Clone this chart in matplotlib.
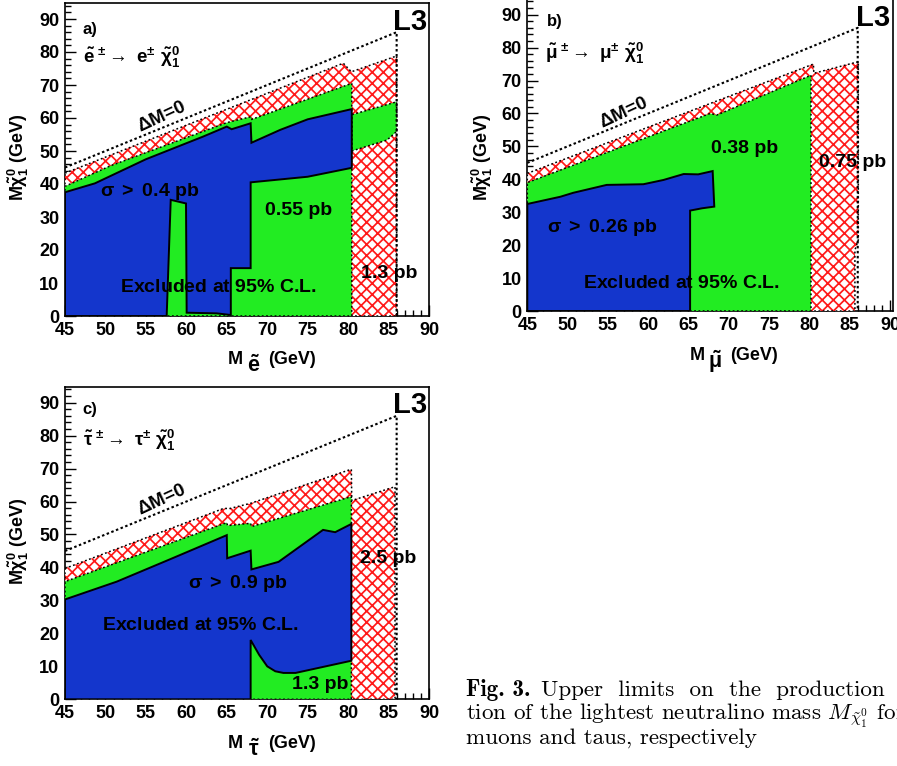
import matplotlib
matplotlib.use("Agg")
import matplotlib.pyplot as plt
from matplotlib.patches import Polygon
from matplotlib.ticker import MultipleLocator

W, H = 897, 766

# ---- values (GeV) ----
# Delta M = 0 kinematic line and the beam-energy edge
DM_X = [45, 86, 86]
DM_Y = [45, 86, 0]

# a) selectrons
A_RED_X = [45, 79.4, 80.4, 86, 86, 45]
A_RED_Y = [43.3, 76.6, 74.0, 78.8, 0, 0]
A_GREEN_X = [45, 80.45, 80.45, 68.1, 68.0, 65.0, 50.6, 45]
A_GREEN_Y = [0, 0, 70.5, 59.6, 60.4, 58.6, 45.5, 39.3]
A_BAND_X = [80.45, 84.8, 86, 86, 80.45]
A_BAND_Y = [50.0, 53.3, 55.9, 64.9, 61.0]
A_BLUE_X = [45, 57.57, 58.07, 59.96, 60.04, 63.75, 65.5, 65.5, 67.95, 67.95, 75, 80.45,
            80.45, 75, 71.6, 68.05, 67.95, 65.6, 65.0, 62.0, 55.0, 48.7, 45]
A_BLUE_Y = [0, 0, 35.2, 34.1, 1.0, 0.8, 0.3, 14.5, 14.5, 40.5, 42.2, 44.9,
            62.7, 59.6, 56.4, 52.5, 58.4, 56.6, 57.4, 54.3, 47.5, 40.2, 37.5]

# b) smuons
B_RED_X = [45, 80.5, 80.55, 86.07, 86.07, 85.65, 85.65, 45]
B_RED_Y = [41.8, 75.0, 72.2, 75.7, 21.6, 18.5, 0, 0]
B_GREEN_X = [45, 80.2, 80.2, 68.5, 67.7, 45]
B_GREEN_Y = [0, 0, 71.6, 59.5, 60.0, 39.0]
B_BLUE_X = [45, 65.2, 65.2, 66.7, 68.2, 68.0, 66.2, 64.4, 61.9, 59.4, 54.85, 50.7, 49.1, 45]
B_BLUE_Y = [0, 0, 30.5, 31.2, 31.7, 42.5, 41.5, 41.6, 39.8, 38.5, 38.3, 35.9, 34.7, 32.5]

# c) staus
C_RED_X = [45, 64.6, 65.4, 68.0, 80.4, 80.45, 85.8, 85.8, 45]
C_RED_Y = [39.7, 57.9, 57.9, 59.5, 69.8, 60.3, 64.5, 0, 0]
C_GREEN_X = [45, 80.4, 80.4, 68.05, 67.95, 65.1, 65.0, 45]
C_GREEN_Y = [0, 0, 61.5, 52.4, 53.4, 52.7, 53.6, 35.7]
C_BLUE_X = [45, 67.95, 67.95, 69.0, 70.0, 71.0, 72.0, 73.5, 80.4, 80.4, 78.4, 76.9, 71.4,
            68.05, 67.95, 65.05, 65.0, 58.0, 51.4, 45]
C_BLUE_Y = [0, 0, 18.0, 13.5, 10.0, 8.5, 8.0, 8.0, 11.7, 53.2, 50.7, 51.4, 41.7,
            39.4, 45.1, 42.8, 49.8, 42.5, 35.7, 30.3]

BLUE = '#1436cc'
GREEN = '#22ec22'
RED = '#ff1a1a'

plt.rcParams['font.family'] = ['Liberation Sans', 'DejaVu Sans']
plt.rcParams['font.weight'] = 'bold'
plt.rcParams['mathtext.fontset'] = 'custom'
plt.rcParams['mathtext.rm'] = 'Liberation Sans:bold'
plt.rcParams['mathtext.bf'] = 'Liberation Sans:bold'
plt.rcParams['mathtext.it'] = 'Liberation Sans:italic'
plt.rcParams['mathtext.sf'] = 'Liberation Sans'
plt.rcParams['hatch.linewidth'] = 1.25

fig = plt.figure(figsize=(W / 100, H / 100), dpi=100)


def px_axes(left, top, right, bottom):
    return fig.add_axes([left / W, 1 - bottom / H, (right - left) / W, (bottom - top) / H])


def fill(ax, xs, ys, face, edge_ls, z, hatch=None):
    pts = list(zip(xs, ys))
    if hatch:
        ax.add_patch(Polygon(pts, closed=True, facecolor='white', edgecolor=RED,
                             hatch=hatch, linewidth=0, zorder=z))
    else:
        ax.add_patch(Polygon(pts, closed=True, facecolor=face, edgecolor='none', zorder=z))
    ls = '-' if edge_ls == 'solid' else (0, (1.2, 1.6))
    lw = 1.4 if edge_ls == 'solid' else 1.1
    ax.add_patch(Polygon(pts, closed=True, fill=False, edgecolor='black',
                         linestyle=ls, linewidth=lw, zorder=z + 0.1))


def setup(ax, xmax, ymax):
    ax.set_xlim(45, xmax)
    ax.set_ylim(0, ymax)
    ax.xaxis.set_major_locator(MultipleLocator(5))
    ax.xaxis.set_minor_locator(MultipleLocator(1))
    ax.yaxis.set_major_locator(MultipleLocator(10))
    ax.yaxis.set_minor_locator(MultipleLocator(2))
    ax.tick_params(which='both', direction='in', top=False, right=False,
                   labelsize=13, width=1)
    ax.tick_params(which='major', length=8)
    ax.tick_params(which='minor', length=4)
    ax.tick_params(axis='x', pad=4)
    ax.tick_params(axis='y', pad=4)
    for lab in ax.get_xticklabels() + ax.get_yticklabels():
        lab.set_fontweight('bold')
    ax.set_axisbelow(True)
    for sp in ax.spines.values():
        sp.set_linewidth(1.2)
        sp.set_zorder(0.5)
    ax.plot(DM_X, DM_Y, color='black', linestyle=(0, (1.2, 1.2)), linewidth=1.5, zorder=6)


def label(ax, x, y, s, ha='center', size=14, rot=0):
    ax.text(x, y, s, ha=ha, va='center', fontsize=size, fontweight='bold',
            rotation=rot, rotation_mode='anchor', zorder=8)


def xlabel_parts(mx, tx, gx, y, sym):
    fig.text(mx / W, 1 - y / H, 'M', fontsize=13, fontweight='bold', va='center', ha='left')
    fig.text(tx / W, 1 - (y + 6) / H, sym, fontsize=15.5, va='center', ha='left')
    fig.text(gx / W, 1 - y / H, '(GeV)', fontsize=13, fontweight='bold', va='center', ha='left')


YLAB = r'M$\mathsf{\tilde{\chi}}^{\mathbf{0}}_{\mathbf{1}}$ (GeV)'
ARROW = r'\mathsf{\rightarrow}'
SIGMA = r'$\mathsf{\sigma\;>}$ '

# ---------- a) ----------
ax = px_axes(65, 2.5, 429, 316)
setup(ax, 90, 95)
fill(ax, A_RED_X, A_RED_Y, None, 'dot', 1, hatch='xxx')
fill(ax, A_GREEN_X, A_GREEN_Y, GREEN, 'dot', 2)
fill(ax, A_BAND_X, A_BAND_Y, GREEN, 'dot', 2)
fill(ax, A_BLUE_X, A_BLUE_Y, BLUE, 'solid', 3)
label(ax, 47.2, 86.7, 'a)', ha='left', size=12)
label(ax, 47.2, 78.2, r'$\tilde{\mathbf{e}}^{\ \mathsf{\pm}}' + ARROW + r'\ \mathbf{e}^{\mathsf{\pm}}\ \mathsf{\tilde{\chi}}^{\mathbf{0}}_{\mathbf{1}}$',
      ha='left', size=13.5)
label(ax, 56.9, 60.3, r'$\mathsf{\Delta}$M=0', size=13.5, rot=25)
label(ax, 49.3, 37.6, SIGMA + '0.4 pb', ha='left')
label(ax, 73.9, 32.1, '0.55 pb')
label(ax, 64.0, 8.5, r'Excluded at 95$\mathsf{\%}$ C.L.')
label(ax, 85.1, 13.0, '1.3 pb')
label(ax, 87.65, 89.1, 'L3', size=21)
fig.text(18 / W, 1 - 157 / H, YLAB, rotation=90, fontsize=13, fontweight='bold',
         ha='center', va='center')
xlabel_parts(228, 247, 268, 360, r'$\tilde{\mathbf{e}}$')

# ---------- b) ----------
ax = px_axes(527.3, -1.8, 893.2, 311)
setup(ax, 90.4, 95)
fill(ax, B_RED_X, B_RED_Y, None, 'dot', 1, hatch='xxx')
fill(ax, B_GREEN_X, B_GREEN_Y, GREEN, 'dot', 2)
fill(ax, B_BLUE_X, B_BLUE_Y, BLUE, 'solid', 3)
label(ax, 47.44, 87.8, 'b)', ha='left', size=12)
label(ax, 47.2, 78.3, r'$\mathsf{\tilde{\mu}}^{\ \mathsf{\pm}}' + ARROW + r'\ \mathsf{\mu}^{\mathsf{\pm}}\ \mathsf{\tilde{\chi}}^{\mathbf{0}}_{\mathbf{1}}$',
      ha='left', size=13.5)
label(ax, 56.9, 60.1, r'$\mathsf{\Delta}$M=0', size=13.5, rot=25)
label(ax, 71.9, 49.5, '0.38 pb')
label(ax, 85.3, 45.2, '0.75 pb')
label(ax, 47.44, 25.5, SIGMA + '0.26 pb', ha='left')
label(ax, 64.1, 8.5, r'Excluded at 95$\mathsf{\%}$ C.L.')
label(ax, 87.9, 89.0, 'L3', size=21)
fig.text(482 / W, 1 - 157 / H, YLAB, rotation=90, fontsize=13, fontweight='bold',
         ha='center', va='center')
xlabel_parts(690, 708, 730, 356, r'$\mathsf{\tilde{\mu}}$')

# ---------- c) ----------
ax = px_axes(65, 387, 429, 699.3)
setup(ax, 90, 94.75)
fill(ax, C_RED_X, C_RED_Y, None, 'dot', 1, hatch='xxx')
fill(ax, C_GREEN_X, C_GREEN_Y, GREEN, 'dot', 2)
fill(ax, C_BLUE_X, C_BLUE_Y, BLUE, 'solid', 3)
label(ax, 47.2, 87.8, 'c)', ha='left', size=12)
label(ax, 47.2, 78.4, r'$\mathsf{\tilde{\tau}}^{\ \mathsf{\pm}}' + ARROW + r'\ \mathsf{\tau}^{\mathsf{\pm}}\ \mathsf{\tilde{\chi}}^{\mathbf{0}}_{\mathbf{1}}$',
      ha='left', size=13.5)
label(ax, 56.9, 60.4, r'$\mathsf{\Delta}$M=0', size=13.5, rot=25)
label(ax, 66.4, 35.0, SIGMA + '0.9 pb')
label(ax, 61.8, 22.5, r'Excluded at 95$\mathsf{\%}$ C.L.')
label(ax, 76.5, 4.6, '1.3 pb')
label(ax, 84.9, 42.6, '2.5 pb')
label(ax, 87.65, 89.3, 'L3', size=21)
fig.text(18 / W, 1 - 541 / H, YLAB, rotation=90, fontsize=13, fontweight='bold',
         ha='center', va='center')
xlabel_parts(228, 248, 268, 744, r'$\mathsf{\tilde{\tau}}$')

# ---------- caption (justified lines, so line 1 has wider word gaps) ----------
cap = dict(fontsize=16.6, va='baseline', ha='left', fontweight='normal')
fig.text(466 / W, 1 - 696 / H, 'Fig. 3.', fontfamily='cmb10', **cap)
fig.text(541 / W, 1 - 696 / H, 'Upper  limits  on  the  production  cross', fontfamily='cmr10', **cap)
fig.text(466 / W, 1 - 720 / H, r'tion of the lightest neutralino mass $M_{\tilde{\chi}^0_1}$ for',
         fontfamily='cmr10', math_fontfamily='cm', **cap)
fig.text(466 / W, 1 - 744 / H, 'muons and taus, respectively', fontfamily='cmr10', **cap)

fig.savefig('out.png', dpi=100)
